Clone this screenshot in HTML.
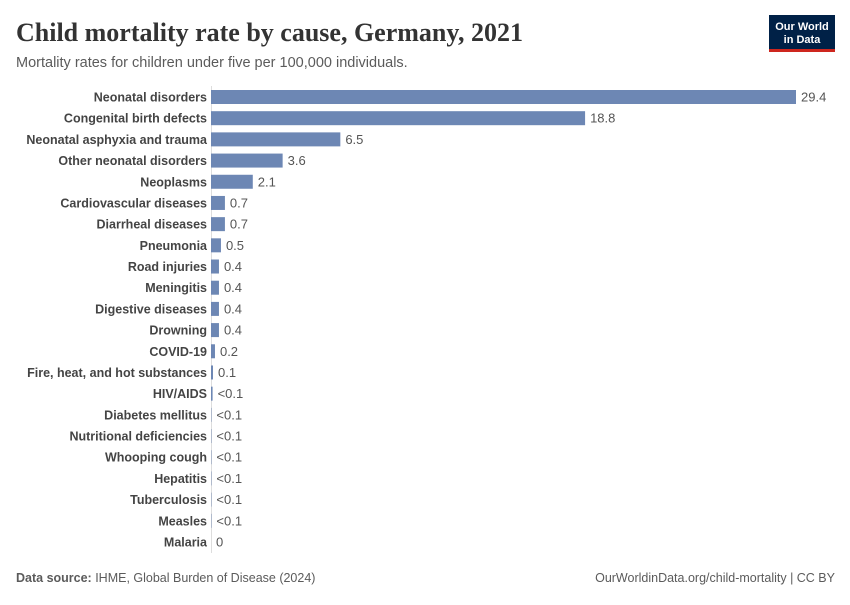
<!DOCTYPE html>
<html><head><meta charset="utf-8"><style>
body{margin:0;background:#fff;font-family:"Liberation Sans",sans-serif}
svg text{font-family:"Liberation Sans",sans-serif}
</style></head><body>
<svg id="chart" width="850" height="600" xmlns="http://www.w3.org/2000/svg">
<text x="16" y="41" font-size="26" font-weight="bold" fill="#333" style="font-family:'Liberation Serif',serif">Child mortality rate by cause, Germany, 2021</text>
<text x="16" y="67" font-size="14.5" fill="#5b5b5b">Mortality rates for children under five per 100,000 individuals.</text>
<g>
<rect x="769" y="15" width="66" height="37" fill="#002147"/>
<rect x="769" y="49" width="66" height="3" fill="#ce261e"/>
<text x="802" y="30" font-size="11" font-weight="bold" fill="#fff" text-anchor="middle">Our World</text>
<text x="802" y="43" font-size="11" font-weight="bold" fill="#fff" text-anchor="middle">in Data</text>
</g>
<line x1="211.5" y1="86" x2="211.5" y2="553" stroke="#ddd"/>
<g id="bars"></g>
<text x="16" y="582" font-size="12.5" fill="#5b5b5b"><tspan font-weight="bold">Data source:</tspan> IHME, Global Burden of Disease (2024)</text>
<text x="835" y="582" font-size="12.5" fill="#5b5b5b" text-anchor="end">OurWorldinData.org/child-mortality | CC BY</text>
</svg>
<script>
const categories=["Neonatal disorders","Congenital birth defects","Neonatal asphyxia and trauma","Other neonatal disorders","Neoplasms","Cardiovascular diseases","Diarrheal diseases","Pneumonia","Road injuries","Meningitis","Digestive diseases","Drowning","COVID-19","Fire, heat, and hot substances","HIV/AIDS","Diabetes mellitus","Nutritional deficiencies","Whooping cough","Hepatitis","Tuberculosis","Measles","Malaria"];
const values=[29.4,18.8,6.5,3.6,2.1,0.7,0.7,0.5,0.4,0.4,0.4,0.4,0.2,0.1,0.08,0.02,0.02,0.02,0.02,0.02,0.02,0];
const valueLabels=["29.4","18.8","6.5","3.6","2.1","0.7","0.7","0.5","0.4","0.4","0.4","0.4","0.2","0.1","<0.1","<0.1","<0.1","<0.1","<0.1","<0.1","<0.1","0"];
const x0=211, xMax=29.4, wMax=585;
const xs=v=>v/xMax*wMax;
const ys=i=>97+i*21.19;
const g=document.getElementById('bars');
const NS="http://www.w3.org/2000/svg";
categories.forEach((c,i)=>{
 const y=ys(i);
 const t=document.createElementNS(NS,'text');
 t.setAttribute('x',207);t.setAttribute('y',y+4.5);t.setAttribute('text-anchor','end');
 t.setAttribute('font-size','12.5');t.setAttribute('fill','#444');t.setAttribute('font-weight','bold');
 t.textContent=c;
 
 
 g.appendChild(t);
 const w=xs(values[i]);
 const r=document.createElementNS(NS,'rect');
 r.setAttribute('x',x0);r.setAttribute('y',y-7);r.setAttribute('width',w);r.setAttribute('height',14);
 r.setAttribute('fill','#6d87b4');
 
 
 g.appendChild(r);
 const v=document.createElementNS(NS,'text');
 v.setAttribute('x',x0+w+5);v.setAttribute('y',y+4.5);
 v.setAttribute('font-size','13');v.setAttribute('fill','#555');
 v.textContent=valueLabels[i];
 
 
 g.appendChild(v);
});
</script>
</body></html>
